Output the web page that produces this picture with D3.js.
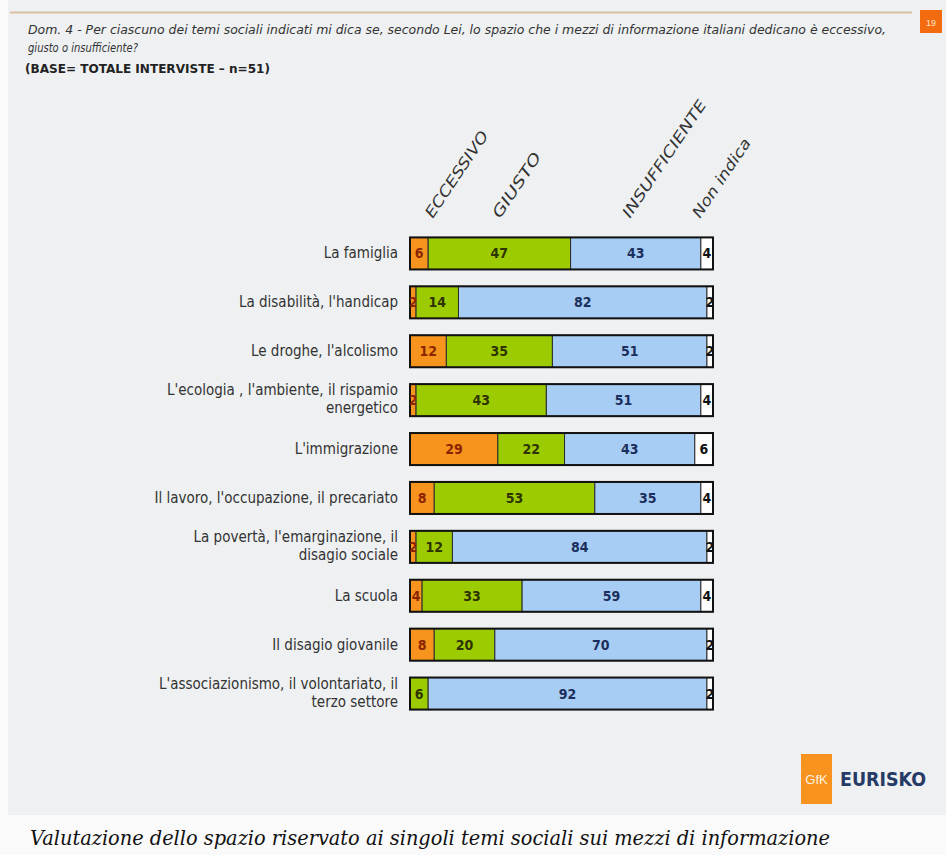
<!DOCTYPE html>
<html>
<head>
<meta charset="utf-8">
<script src="https://cdn.jsdelivr.net/npm/d3@7"></script>
<style>
  body { margin: 0; background: #fff; }
  svg { display: block; }
</style>
</head>
<body>
<div id="chart"></div>
<script>
var categories = [
  ["La famiglia"],
  ["La disabilità, l'handicap"],
  ["Le droghe, l'alcolismo"],
  ["L'ecologia , l'ambiente, il rispamio", "energetico"],
  ["L'immigrazione"],
  ["Il lavoro, l'occupazione, il precariato"],
  ["La povertà, l'emarginazione, il", "disagio sociale"],
  ["La scuola"],
  ["Il disagio giovanile"],
  ["L'associazionismo, il volontariato, il", "terzo settore"]
];
var seriesNames = ["ECCESSIVO", "GIUSTO", "INSUFFICIENTE", "Non indica"];
var eccessivo     = [6, 2, 12, 2, 29, 8, 2, 4, 8, 0];
var giusto        = [47, 14, 35, 43, 22, 53, 12, 33, 20, 6];
var insufficiente = [43, 82, 51, 51, 43, 35, 84, 59, 70, 92];
var nonIndica     = [4, 2, 2, 4, 6, 4, 2, 4, 2, 2];

var fills = ["#F7941E", "#9BCB00", "#A7CDF4", "#FFFFFF"];
var textColors = ["#8B2500", "#2E3300", "#1C2F5C", "#111111"];

var W = 946, H = 855;
var svg = d3.select("#chart").append("svg")
  .attr("width", W).attr("height", H);

// background panel
svg.append("rect").attr("width", W).attr("height", H).attr("fill", "#FAFAFA");
svg.append("rect").attr("x", 8).attr("y", 0).attr("width", W - 8).attr("height", 815)
  .attr("fill", "#EEF0F2");
svg.append("line").attr("x1", 10).attr("x2", 912).attr("y1", 12.5).attr("y2", 12.5)
  .attr("stroke", "#D9BFA0").attr("stroke-width", 2);
svg.append("rect").attr("x", 920).attr("y", 10).attr("width", 22).attr("height", 23)
  .attr("fill", "#F26B0F");
svg.append("text").attr("x", 931).attr("y", 26).attr("text-anchor", "middle")
  .style("font-family", "Liberation Sans").style("font-size", "9px").attr("fill", "#FFE2C8")
  .text("19");

// header
svg.append("text").attr("x", 28).attr("y", 34)
  .attr("textLength", 858).attr("lengthAdjust", "spacingAndGlyphs")
  .style("font-family", "DejaVu Sans").style("font-style", "italic").style("font-size", "11.5px")
  .attr("fill", "#333")
  .text("Dom. 4 - Per ciascuno dei temi sociali indicati mi dica se, secondo Lei, lo spazio che i mezzi di informazione italiani dedicano è eccessivo,");
svg.append("text").attr("x", 28).attr("y", 52)
  .attr("textLength", 110).attr("lengthAdjust", "spacingAndGlyphs")
  .style("font-family", "DejaVu Sans").style("font-style", "italic").style("font-size", "11.5px")
  .attr("fill", "#333")
  .text("giusto o insufficiente?");
svg.append("text").attr("x", 25).attr("y", 73)
  .attr("textLength", 245).attr("lengthAdjust", "spacingAndGlyphs")
  .style("font-family", "DejaVu Sans Condensed, DejaVu Sans").style("font-weight", "bold").style("font-size", "12.5px")
  .attr("fill", "#222")
  .text("(BASE= TOTALE INTERVISTE – n=51)");

// scales
var x = d3.scaleLinear().domain([0, 100]).range([410, 713]);
var y = d3.scaleBand().domain(d3.range(categories.length))
  .range([229, 718]).paddingInner(0.345).paddingOuter(0.1725);

var rows = categories.map(function(c, i) {
  var vals = [eccessivo[i], giusto[i], insufficiente[i], nonIndica[i]];
  var cum = 0;
  var segs = vals.map(function(v, k) {
    var s = {k: k, v: v, x0: cum, x1: cum + v};
    cum += v;
    return s;
  });
  return {i: i, label: c, segs: segs, total: cum};
});

var g = svg.append("g");
var row = g.selectAll("g.row").data(rows).enter().append("g").attr("class", "row");

row.selectAll("rect.seg")
  .data(function(d) { return d.segs.filter(function(s) { return s.v > 0; }).map(function(s) { s.i = d.i; return s; }); })
  .enter().append("rect").attr("class", "seg")
  .attr("x", function(s) { return x(s.x0); })
  .attr("y", function(s) { return y(s.i); })
  .attr("width", function(s) { return x(s.x1) - x(s.x0); })
  .attr("height", y.bandwidth())
  .attr("fill", function(s) { return fills[s.k]; })
  .attr("stroke", "#2a2a2a").attr("stroke-width", 1);

row.append("rect")
  .attr("x", function(d) { return x(0); })
  .attr("y", function(d) { return y(d.i); })
  .attr("width", function(d) { return x(d.total) - x(0); })
  .attr("height", y.bandwidth())
  .attr("fill", "none").attr("stroke", "#111").attr("stroke-width", 2);

row.selectAll("text.val")
  .data(function(d) { return d.segs.filter(function(s) { return s.v > 0; }).map(function(s) { s.i = d.i; return s; }); })
  .enter().append("text").attr("class", "val")
  .attr("x", function(s) { return (x(s.x0) + x(s.x1)) / 2; })
  .attr("y", function(s) { return y(s.i) + y.bandwidth() / 2 + 5; })
  .attr("text-anchor", "middle")
  .style("font-family", "Liberation Sans Narrow, DejaVu Sans Condensed, sans-serif")
  .style("font-weight", "bold").style("font-size", "14px")
  .attr("fill", function(s) { return textColors[s.k]; })
  .text(function(s) { return s.v; });

// category labels
row.each(function(d) {
  var lines = d.label;
  var cy = y(d.i) + y.bandwidth() / 2;
  var t = d3.select(this).append("text")
    .attr("text-anchor", "end")
    .style("font-family", "Liberation Sans Narrow, DejaVu Sans Condensed, sans-serif")
    .style("font-size", "15px").attr("fill", "#333");
  lines.forEach(function(l, j) {
    t.append("tspan").attr("x", 398)
      .attr("y", lines.length === 1 ? cy + 5 : cy - 5 + j * 18)
      .text(l);
  });
});

// column headers, rotated
var headerAt = [7.5, 29.7, 72.6, 95.7];
var headerLen = [101, 75, 138, 92];
seriesNames.forEach(function(n, k) {
  svg.append("text")
    .attr("transform", "translate(" + x(headerAt[k]) + ",219) rotate(-56)")
    .attr("textLength", headerLen[k]).attr("lengthAdjust", "spacingAndGlyphs")
    .style("font-family", "Liberation Sans Narrow, DejaVu Sans Condensed, sans-serif")
    .style("font-style", "italic").style("font-size", "15px")
    .attr("fill", "#333")
    .text(n);
});

// logo
svg.append("rect").attr("x", 801).attr("y", 754).attr("width", 31).attr("height", 50)
  .attr("fill", "#F7931E");
svg.append("text").attr("x", 816.5).attr("y", 784).attr("text-anchor", "middle")
  .style("font-family", "Liberation Sans").style("font-size", "13px").attr("fill", "#FFF3E0")
  .text("GfK");
svg.append("text").attr("x", 840).attr("y", 786)
  .attr("textLength", 86).attr("lengthAdjust", "spacingAndGlyphs")
  .style("font-family", "Liberation Sans Narrow, DejaVu Sans Condensed, sans-serif")
  .style("font-weight", "bold").style("font-size", "19px").attr("fill", "#263A66")
  .text("EURISKO");

// caption
svg.append("text").attr("x", 30).attr("y", 845)
  .attr("textLength", 800).attr("lengthAdjust", "spacingAndGlyphs")
  .style("font-family", "DejaVu Serif").style("font-style", "italic").style("font-size", "20px")
  .attr("fill", "#111")
  .text("Valutazione dello spazio riservato ai singoli temi sociali sui mezzi di informazione");
</script>
</body>
</html>
